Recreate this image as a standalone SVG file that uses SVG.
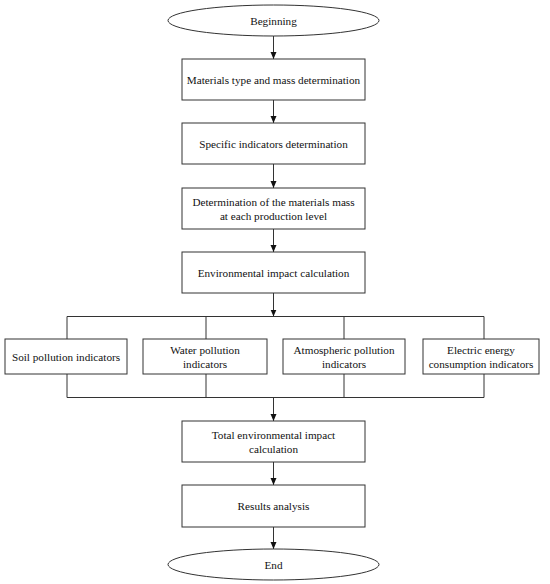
<svg xmlns="http://www.w3.org/2000/svg" width="550" height="584" viewBox="0 0 550 584">
<style>
.n{fill:#fff;stroke:#333;stroke-width:1}
.t{font-family:'Liberation Serif','Times New Roman',Times,'DejaVu Serif',serif;font-size:11.2px;fill:#111;text-anchor:middle}
.c{fill:none;stroke:#333;stroke-width:1}
</style>
<defs>
<marker id="ah" markerWidth="8" markerHeight="8" refX="7" refY="4" orient="auto" markerUnits="userSpaceOnUse">
<path d="M0,1 L7,4 L0,7 Z" fill="#111"/>
</marker>
</defs>
<rect width="550" height="584" fill="#fff"/>
<g id="connectors">
<line class="c" x1="273.5" y1="36" x2="273.5" y2="59" marker-end="url(#ah)"/>
<line class="c" x1="273.5" y1="100" x2="273.5" y2="123" marker-end="url(#ah)"/>
<line class="c" x1="273.5" y1="164" x2="273.5" y2="188" marker-end="url(#ah)"/>
<line class="c" x1="273.5" y1="229" x2="273.5" y2="252" marker-end="url(#ah)"/>
<line class="c" x1="273.5" y1="293" x2="273.5" y2="316.5" marker-end="url(#ah)"/>
<path class="c" d="M67,339 V316.5 H484 V339 M206,316.5 V339 M344,316.5 V339"/>
<path class="c" d="M67,374 V397.5 H484 V374 M206,374 V397.5 M344,374 V397.5"/>
<line class="c" x1="273.5" y1="397.5" x2="273.5" y2="421" marker-end="url(#ah)"/>
<line class="c" x1="273.5" y1="462" x2="273.5" y2="485" marker-end="url(#ah)"/>
<line class="c" x1="273.5" y1="527" x2="273.5" y2="549" marker-end="url(#ah)"/>
</g>
<g id="beginning">
<ellipse class="n" cx="273.5" cy="20.5" rx="105.5" ry="15.5"/>
<text class="t" x="273.5" y="24.5">Beginning</text>
</g>
<g id="materials">
<rect class="n" x="182" y="59" width="183" height="41"/>
<text class="t" x="273.5" y="83.5">Materials type and mass determination</text>
</g>
<g id="specific">
<rect class="n" x="182" y="123" width="183" height="41"/>
<text class="t" x="273.5" y="147.5">Specific indicators determination</text>
</g>
<g id="determination">
<rect class="n" x="182" y="188" width="183" height="41"/>
<text class="t" x="273.5" y="205.5">Determination of the materials mass</text>
<text class="t" x="273.5" y="219.5">at each production level</text>
</g>
<g id="environmental">
<rect class="n" x="182" y="252" width="183" height="41"/>
<text class="t" x="273.5" y="276.5">Environmental impact calculation</text>
</g>
<g id="soil">
<rect class="n" x="5" y="339" width="122" height="35"/>
<text class="t" x="66" y="360.5">Soil pollution indicators</text>
</g>
<g id="water">
<rect class="n" x="143" y="339" width="124" height="35"/>
<text class="t" x="205" y="354">Water pollution</text>
<text class="t" x="205" y="368">indicators</text>
</g>
<g id="atmospheric">
<rect class="n" x="283" y="339" width="122" height="35"/>
<text class="t" x="344" y="354">Atmospheric pollution</text>
<text class="t" x="344" y="368">indicators</text>
</g>
<g id="electric">
<rect class="n" x="423" y="339" width="116" height="35"/>
<text class="t" x="481" y="354">Electric energy</text>
<text class="t" x="481" y="368">consumption indicators</text>
</g>
<g id="total">
<rect class="n" x="182" y="421" width="183" height="41"/>
<text class="t" x="273.5" y="438.5">Total environmental impact</text>
<text class="t" x="273.5" y="452.5">calculation</text>
</g>
<g id="results">
<rect class="n" x="182" y="485" width="183" height="42"/>
<text class="t" x="273.5" y="510">Results analysis</text>
</g>
<g id="end">
<ellipse class="n" cx="273.5" cy="564.5" rx="105.5" ry="15.5"/>
<text class="t" x="273.5" y="568.5">End</text>
</g>
</svg>
